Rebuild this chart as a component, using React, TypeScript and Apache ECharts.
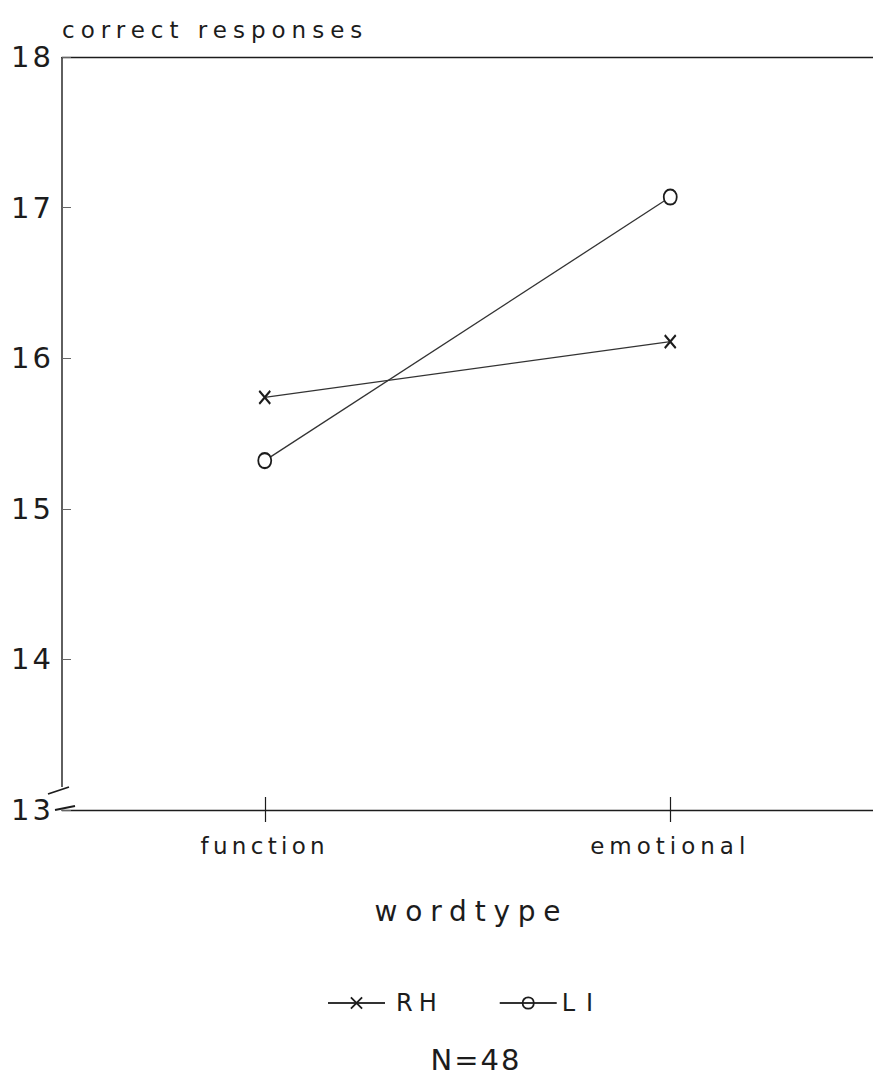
import React, { useEffect, useRef } from 'react';
import * as echarts from 'echarts';

// Categories and mean correct responses per hand group
const WORDTYPES = ['function', 'emotional'];
const RH_VALUES = [15.74, 16.11];
const LI_VALUES = [15.32, 17.07];
const Y_MIN = 13;
const Y_MAX = 18;
const Y_STEP = 1;
const FOOTNOTE = 'N=48';

const WIDTH = 873;
const HEIGHT = 1079;
const GRID_LEFT = 62;
const GRID_TOP = 57;
const GRID_BOTTOM = 269;
const GRID_RIGHT = -9;

const FONT = '"DejaVu Sans", Verdana, sans-serif';
const INK = '#1c1c1c';
const LINE = '#333';

// Plot symbols in the style of a pen plotter: an "x" and an "o"
const CROSS = 'path://M0,0 L10,12 M10,0 L0,12';
const RING = 'path://M5,0 C8,0 10,3 10,7 C10,11 8,14 5,14 C2,14 0,11 0,7 C0,3 2,0 5,0 Z';

// Wide tracking of the plotter lettering, per text
const TRACKING: Record<string, number> = {
  'correct responses': 6,
  function: 4.3,
  emotional: 5,
  wordtype: 7.8,
  RH: 6,
  LI: 11,
  'N=48': 2,
  '13': 3,
  '14': 3,
  '15': 3,
  '16': 3,
  '17': 3,
  '18': 3,
};

export default function App() {
  const ref = useRef<HTMLDivElement | null>(null);

  useEffect(() => {
    const el = ref.current;
    if (!el) return;
    const chart = echarts.init(el, undefined, { renderer: 'svg' });

    chart.setOption({
      animation: false,
      backgroundColor: '#fff',
      grid: {
        left: GRID_LEFT,
        top: GRID_TOP,
        right: GRID_RIGHT,
        bottom: GRID_BOTTOM,
        containLabel: false,
      },
      xAxis: [
        {
          type: 'category',
          data: WORDTYPES,
          position: 'bottom',
          boundaryGap: true,
          axisLine: { show: true, lineStyle: { color: INK, width: 1.3 } },
          axisTick: { show: true, alignWithLabel: true, length: 12, lineStyle: { color: INK, width: 1.2 } },
          axisLabel: { fontSize: 23, color: INK, fontFamily: FONT, margin: 24 },
          splitLine: { show: false },
          name: 'wordtype',
          nameLocation: 'middle',
          nameGap: 101,
          nameTextStyle: {
            fontSize: 28,
            color: INK,
            fontFamily: FONT,
            verticalAlign: 'middle',
            padding: [0, 0, 0, 8],
          },
        },
        {
          type: 'category',
          data: WORDTYPES,
          position: 'bottom',
          boundaryGap: true,
          axisLine: { show: false },
          axisTick: { show: true, inside: true, alignWithLabel: true, length: 13, lineStyle: { color: INK, width: 1.2 } },
          axisLabel: { show: false },
          splitLine: { show: false },
        },
        {
          type: 'category',
          data: WORDTYPES,
          position: 'top',
          boundaryGap: true,
          axisLine: { show: true, lineStyle: { color: INK, width: 1.3 } },
          axisTick: { show: false },
          axisLabel: { show: false },
          splitLine: { show: false },
        },
      ],
      yAxis: {
        type: 'value',
        min: Y_MIN,
        max: Y_MAX,
        interval: Y_STEP,
        name: 'correct responses',
        nameLocation: 'end',
        nameGap: 27,
        nameTextStyle: {
          align: 'left',
          verticalAlign: 'middle',
          fontSize: 23,
          color: INK,
          fontFamily: FONT,
        },
        axisLine: { show: false },
        axisTick: { show: true, inside: true, length: 9, lineStyle: { color: '#666', width: 1 } },
        axisLabel: { fontSize: 29, color: INK, fontFamily: FONT, margin: 8 },
        splitLine: { show: false },
      },
      legend: {
        left: 322,
        top: 986,
        orient: 'horizontal',
        itemWidth: 57,
        itemHeight: 14,
        itemGap: 68,
        selectedMode: false,
        textStyle: { fontSize: 24, color: INK, fontFamily: FONT },
        itemStyle: { borderColor: INK, borderWidth: 1.8 },
        data: [
          { name: 'RH', textStyle: { padding: [0, 0, 0, 6] } },
          { name: 'LI', textStyle: { padding: [0, 0, 0, 0] }, itemStyle: { color: 'transparent' } },
        ],
      },
      series: [
        {
          name: 'RH',
          type: 'line',
          xAxisIndex: 0,
          data: RH_VALUES,
          symbol: CROSS,
          symbolSize: [11, 13],
          silent: true,
          lineStyle: { color: LINE, width: 1.3 },
          itemStyle: { color: INK, borderColor: INK, borderWidth: 2.1 },
        },
        {
          name: 'LI',
          type: 'line',
          xAxisIndex: 0,
          data: LI_VALUES,
          symbol: RING,
          symbolSize: [13, 15],
          silent: true,
          lineStyle: { color: LINE, width: 1.3 },
          itemStyle: { color: '#fff', borderColor: INK, borderWidth: 1.9 },
        },
      ],
    });

    // Broken value axis: the line stops short of the base, with two break strokes
    const yTop = chart.convertToPixel({ yAxisIndex: 0 }, Y_MAX) as number;
    const yBase = chart.convertToPixel({ yAxisIndex: 0 }, Y_MIN) as number;

    chart.setOption({
      graphic: [
        {
          type: 'line',
          shape: { x1: GRID_LEFT, y1: yTop, x2: GRID_LEFT, y2: yBase - 23 },
          style: { stroke: INK, lineWidth: 1.4 },
        },
        {
          type: 'line',
          shape: { x1: GRID_LEFT - 14, y1: yBase - 16, x2: GRID_LEFT + 7, y2: yBase - 23 },
          style: { stroke: INK, lineWidth: 1.8 },
        },
        {
          type: 'line',
          shape: { x1: GRID_LEFT - 7, y1: yBase, x2: GRID_LEFT + 13, y2: yBase - 4 },
          style: { stroke: INK, lineWidth: 1.8 },
        },
        {
          type: 'text',
          x: 476,
          y: 1060,
          style: {
            text: FOOTNOTE,
            fontSize: 29,
            fontFamily: FONT,
            fill: INK,
            align: 'center',
            verticalAlign: 'middle',
          },
        },
      ],
    });

    const applyTracking = () => {
      el.querySelectorAll('text').forEach((t) => {
        const s = TRACKING[(t.textContent || '').trim()];
        if (s) {
          t.setAttribute('letter-spacing', `${s}px`);
          (t as SVGTextElement).style.letterSpacing = `${s}px`;
        }
      });
    };
    applyTracking();
    chart.on('finished', applyTracking);
    const raf = requestAnimationFrame(applyTracking);

    return () => {
      cancelAnimationFrame(raf);
      chart.dispose();
    };
  }, []);

  return (
    <div
      ref={ref}
      style={{ position: 'absolute', left: 0, top: 0, width: WIDTH, height: HEIGHT, background: '#fff' }}
    />
  );
}
